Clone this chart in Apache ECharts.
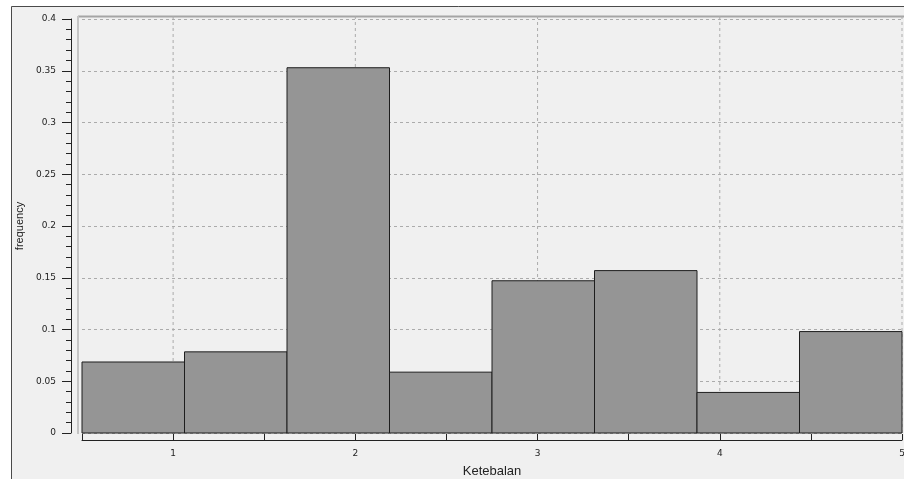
<!DOCTYPE html>
<html>
<head>
<meta charset="utf-8">
<script src="https://cdn.jsdelivr.net/npm/echarts@6/dist/echarts.min.js"></script>
<style>
html,body{margin:0;padding:0;background:#fff;}
#c{width:904px;height:479px;}
</style>
</head>
<body>
<div id="c"></div>
<script>
// Histogram of "Ketebalan"
var binEdges = [0.5, 1.0625, 1.625, 2.1875, 2.75, 3.3125, 3.875, 4.4375, 5.0];
var frequencies = [0.0686, 0.0784, 0.3529, 0.0588, 0.1471, 0.1569, 0.0392, 0.0980];
var yTicks = [0, 0.05, 0.1, 0.15, 0.2, 0.25, 0.3, 0.35, 0.4];
var xTicks = [1, 2, 3, 4, 5];
var xName = 'Ketebalan';
var yName = 'frequency';

var barData = frequencies.map(function (v, i) { return [binEdges[i], binEdges[i + 1], v]; });

var chart = echarts.init(document.getElementById('c'));
var labelFont = 'DejaVu Sans';
chart.setOption({
  backgroundColor: '#ffffff',
  animation: false,
  graphic: [
    { type: 'rect', z: -10, shape: { x: 11.5, y: 6.5, width: 900, height: 480 },
      style: { fill: '#f0f0f0', stroke: '#4a4a4a', lineWidth: 1 } },
    { type: 'line', z: -5, shape: { x1: 78, y1: 16.5, x2: 904, y2: 16.5 },
      style: { stroke: '#a5a5a5', lineWidth: 2 } },
    { type: 'line', z: -5, shape: { x1: 78, y1: 16, x2: 78, y2: 434 },
      style: { stroke: '#c4c4c4', lineWidth: 2 } }
  ],
  grid: { left: 82, right: 2, top: 19, bottom: 46, outerBoundsMode: 'none', containLabel: false },
  xAxis: {
    type: 'value', min: 0.5, max: 5, interval: 0.5,
    offset: 7,
    name: xName, nameLocation: 'middle', nameGap: 25,
    nameTextStyle: { fontFamily: 'Liberation Sans', fontSize: 13, color: '#222' },
    axisLine: { show: true, onZero: false, lineStyle: { color: '#222', width: 1 } },
    axisTick: { show: true, inside: true, length: 6, lineStyle: { color: '#222' } },
    axisLabel: {
      margin: 9, fontFamily: labelFont, fontSize: 9, color: '#222',
      formatter: function (v) { return xTicks.indexOf(v) >= 0 ? String(v) : ''; }
    },
    splitLine: { show: false }
  },
  yAxis: {
    type: 'value', min: 0, max: 0.4, interval: 0.05,
    offset: 11,
    name: yName, nameLocation: 'middle', nameGap: 44, nameRotate: 90,
    nameTextStyle: { fontFamily: 'Liberation Sans Narrow, Liberation Sans', fontSize: 11, color: '#222' },
    axisLine: { show: true, onZero: false, lineStyle: { color: '#222', width: 1 } },
    axisTick: { show: true, inside: false, length: 9, lineStyle: { color: '#222' } },
    minorTick: { show: true, splitNumber: 5, length: 5, lineStyle: { color: '#222' } },
    axisLabel: {
      margin: 15, fontFamily: labelFont, fontSize: 9, color: '#222',
      formatter: function (v) { return String(+v.toFixed(2)); }
    },
    splitLine: { show: true, lineStyle: { color: '#ababab', type: [3, 3], width: 1 } }
  },
  series: [
    {
      type: 'custom',
      z: 2,
      data: barData,
      renderItem: function (params, api) {
        var p0 = api.coord([api.value(0), api.value(2)]);
        var p1 = api.coord([api.value(1), 0]);
        return {
          type: 'rect',
          shape: { x: p0[0], y: p0[1], width: p1[0] - p0[0], height: p1[1] - p0[1] },
          style: { fill: '#959595', stroke: '#1e1e1e', lineWidth: 1 }
        };
      },
      encode: { x: [0, 1], y: 2 }
    },
    {
      // vertical dashed gridlines at integer x positions
      type: 'custom',
      z: 1,
      silent: true,
      data: xTicks.map(function (t) { return [t]; }),
      renderItem: function (params, api) {
        var top = api.coord([api.value(0), 0.4]);
        var bot = api.coord([api.value(0), 0]);
        return {
          type: 'line',
          shape: { x1: top[0], y1: top[1] - 3, x2: bot[0], y2: bot[1] },
          style: { stroke: '#ababab', lineWidth: 1, lineDash: [3, 3] }
        };
      },
      encode: { x: 0 }
    }
  ]
});
</script>
</body>
</html>
